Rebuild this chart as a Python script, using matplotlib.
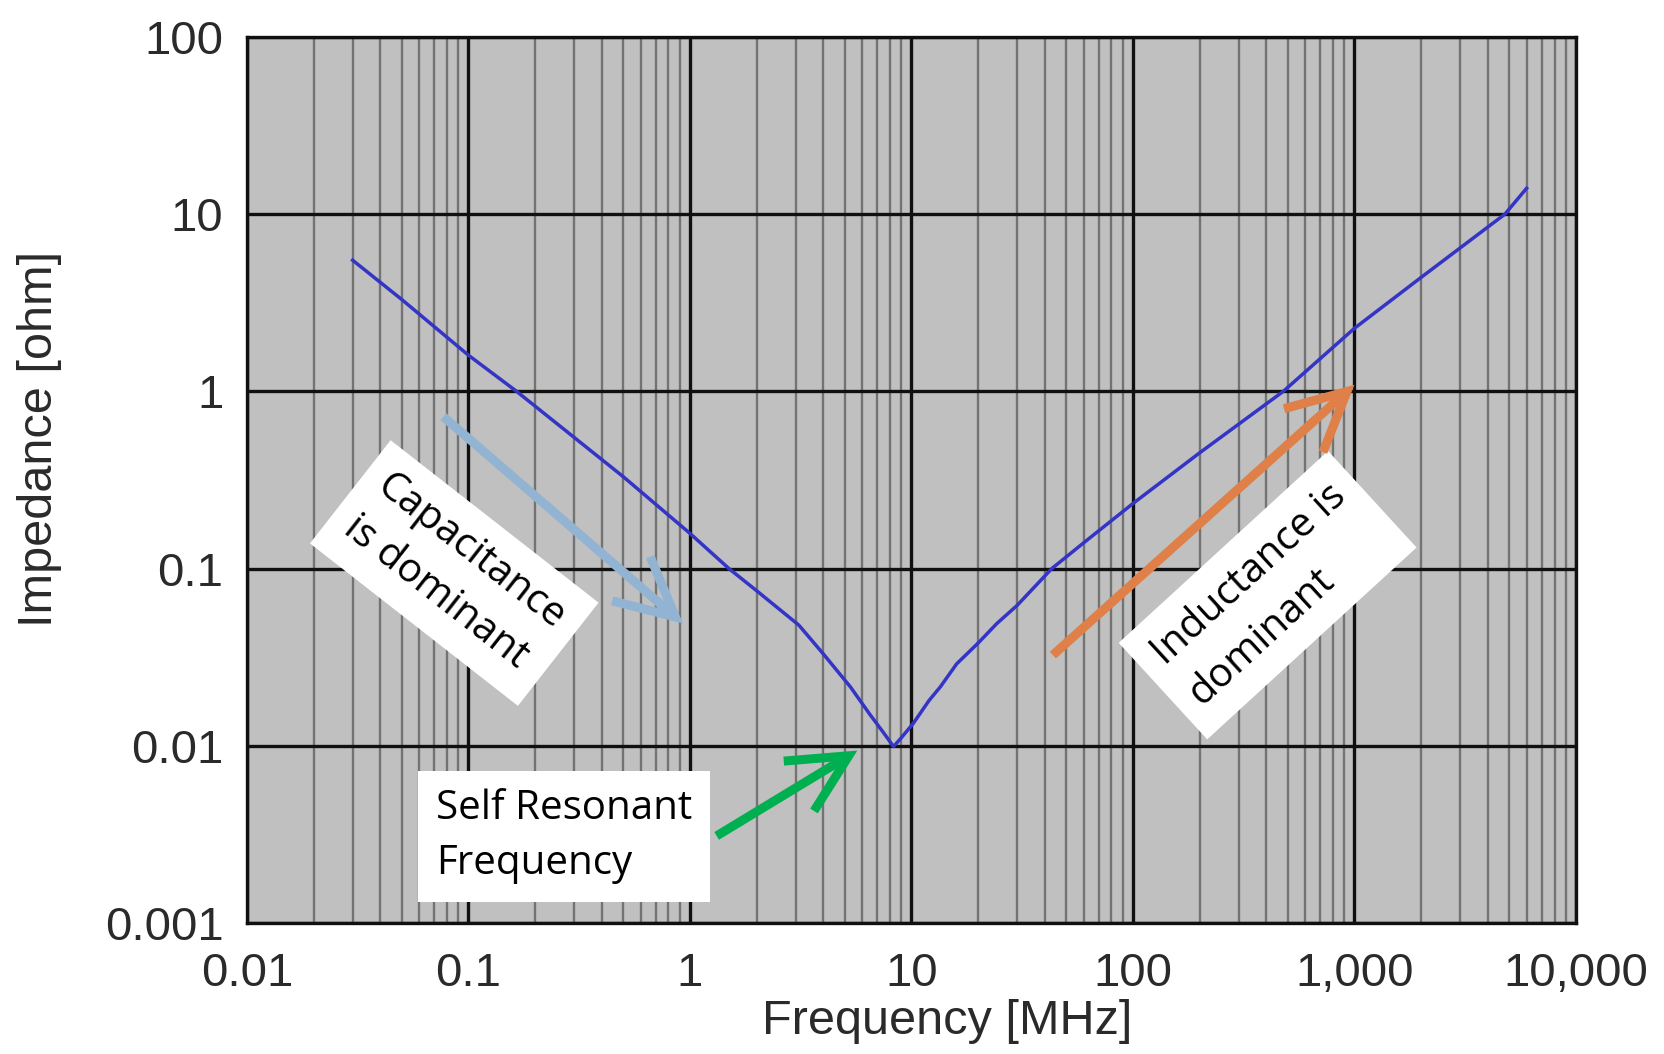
import numpy as np
import matplotlib
matplotlib.use("Agg")
import matplotlib.pyplot as plt
from matplotlib.ticker import LogLocator, NullLocator, FixedLocator, FixedFormatter

# impedance curve of the capacitor, read point by point
freq_mhz = [0.03, 0.05, 0.1, 0.165, 0.3, 0.5, 1.0, 1.5, 2.0, 3.1, 4.0, 5.3,
            6.5, 7.5, 8.3, 9.0, 10.2, 12.0, 13.5, 16.0, 20.0, 24.3, 30.0,
            43.0, 60.0, 100.0, 200.0, 477.0, 1000.0, 2000.0, 4775.0, 5985.0]
impedance_ohm = [5.5, 3.3, 1.6, 1.0, 0.55, 0.33, 0.158, 0.1, 0.075, 0.048,
                 0.033, 0.0215, 0.015, 0.0118, 0.0099, 0.0111, 0.0134, 0.018,
                 0.0215, 0.029, 0.038, 0.049, 0.062, 0.1, 0.14, 0.233, 0.45,
                 1.0, 2.27, 4.4, 10.0, 14.0]

x_ticks = [0.01, 0.1, 1, 10, 100, 1000, 10000]
x_tick_labels = ["0.01", "0.1", "1", "10", "100", "1,000", "10,000"]
y_ticks = [0.001, 0.01, 0.1, 1, 10, 100]
y_tick_labels = ["0.001", "0.01", "0.1", "1", "10", "100"]

label_font = "Liberation Sans"
note_font = "Open Sans"

fig = plt.figure(figsize=(16.64, 10.54), dpi=100)
ax = fig.add_axes([0.1484, 0.1243, 0.7987, 0.8406])
ax.set_facecolor("#c0c0c0")
ax.set_xscale("log")
ax.set_yscale("log")
ax.set_xlim(x_ticks[0], x_ticks[-1])
ax.set_ylim(y_ticks[0], y_ticks[-1])

ax.xaxis.set_major_locator(FixedLocator(x_ticks))
ax.xaxis.set_major_formatter(FixedFormatter(x_tick_labels))
ax.xaxis.set_minor_locator(LogLocator(base=10, subs=np.arange(2, 10), numticks=100))
ax.yaxis.set_major_locator(FixedLocator(y_ticks))
ax.yaxis.set_major_formatter(FixedFormatter(y_tick_labels))
ax.yaxis.set_minor_locator(NullLocator())

ax.set_axisbelow(True)
ax.grid(which="minor", axis="x", color="#737373", lw=1.7)
ax.grid(which="major", color="#101010", lw=2.4)
for sp in ax.spines.values():
    sp.set_color("#101010")
    sp.set_linewidth(2.4)

ax.tick_params(which="both", length=0)
ax.tick_params(axis="x", pad=21)
ax.tick_params(axis="y", pad=17)
for lab in ax.get_xticklabels() + ax.get_yticklabels():
    lab.set_fontfamily(label_font)
    lab.set_fontsize(34)
    lab.set_color("#2a2a2a")

ax.set_xlabel("Frequency [MHz]", fontfamily=label_font, fontsize=35, color="#2a2a2a")
ax.set_ylabel("Impedance [ohm]", fontfamily=label_font, fontsize=35, color="#2a2a2a")
ax.xaxis.set_label_coords(0.527, -0.086)
ax.yaxis.set_label_coords(-0.139, 0.546)

ax.plot(freq_mhz, impedance_ohm, color="#3434c6", lw=2.5, zorder=3)

# annotation arrows (tail -> tip, in MHz / ohm)
arrow_style = "->,head_length=0.42,head_width=0.21"
arrows = [
    ((0.077, 0.72), (0.93, 0.049), "#92b4d2"),
    ((43.5, 0.0325), (1000.0, 1.09), "#de8048"),
    ((1.32, 0.0031), (5.7, 0.0094), "#00b050"),
]
for tail, tip, col in arrows:
    ax.annotate("", xy=tip, xytext=tail,
                arrowprops=dict(arrowstyle=arrow_style, lw=6.5, color=col,
                                shrinkA=0, shrinkB=0, mutation_scale=100,
                                capstyle="butt", joinstyle="miter"),
                zorder=5)

note_kw = dict(transform=ax.transAxes, ha="center", va="center",
               multialignment="left", fontsize=29, fontfamily=note_font,
               linespacing=1.45, zorder=4)
box = dict(boxstyle="square,pad=0.45", fc="white", ec="none")
ax.text(0.156, 0.395, "Capacitance\nis dominant", rotation=-38,
        rotation_mode="anchor", bbox=box, **note_kw)
ax.text(0.768, 0.370, "Inductance is\ndominant", rotation=42.5,
        rotation_mode="anchor", bbox=box, **note_kw)
ax.text(0.2385, 0.098, "Self Resonant\nFrequency",
        bbox=dict(boxstyle="square,pad=0.45", fc="white", ec="none"), **note_kw)

fig.savefig("out.png", dpi=100)
